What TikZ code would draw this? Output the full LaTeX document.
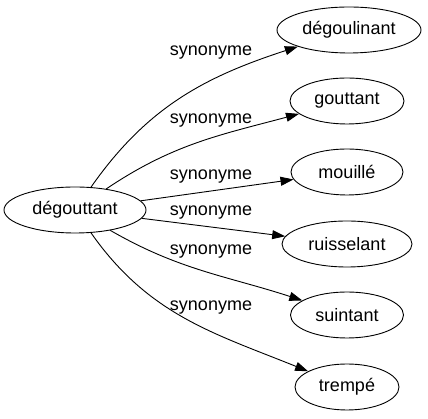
\documentclass[tikz,border=0pt]{standalone}
\usepackage{fontspec}
\setmainfont{Liberation Sans}
\usepackage{tikz}
\usetikzlibrary{shapes.geometric,arrows.meta}
\tikzset{
  mot/.style={draw,ellipse,line width=0.9pt,inner sep=0pt,minimum height=46pt,font=\fontsize{18}{21}\selectfont},
  syn/.style={inner sep=0pt,font=\fontsize{18}{21}\selectfont},
  lien/.style={line width=0.9pt,-{Triangle[length=13pt,width=9pt]}}
}
\begin{document}
\begin{tikzpicture}[x=1pt,y=1pt]
    \useasboundingbox (0,0) rectangle (428,419);
    \node[mot,minimum width=142pt] (degouttant) at (75,209) {dégouttant};
    \node[mot,minimum width=144pt] (degoulinant) at (349,389) {dégoulinant};
    \node[mot,minimum width=114pt] (gouttant) at (347,318) {gouttant};
    \node[mot,minimum width=112pt] (mouille) at (347,247) {mouillé};
    \node[mot,minimum width=130pt] (ruisselant) at (347,175) {ruisselant};
    \node[mot,minimum width=113pt] (suintant) at (347,104) {suintant};
    \node[mot,minimum width=104pt] (trempe) at (347,32) {trempé};
    \draw[lien] (degouttant) to[out=55,in=198] (degoulinant);
    \node[syn] (s1) at (211,366) {synonyme};
    \draw[lien] (degouttant) to[out=34,in=195] (gouttant);
    \node[syn] (s2) at (211,298) {synonyme};
    \draw[lien] (degouttant) -- (mouille);
    \node[syn] (s3) at (211,242) {synonyme};
    \draw[lien] (degouttant) -- (ruisselant);
    \node[syn] (s4) at (211,206) {synonyme};
    \draw[lien] (degouttant) to[out=-30,in=162] (suintant);
    \node[syn] (s5) at (211,167) {synonyme};
    \draw[lien] (degouttant) to[out=-55,in=158] (trempe);
    \node[syn] (s6) at (211,111) {synonyme};
  \end{tikzpicture}
\end{document}
